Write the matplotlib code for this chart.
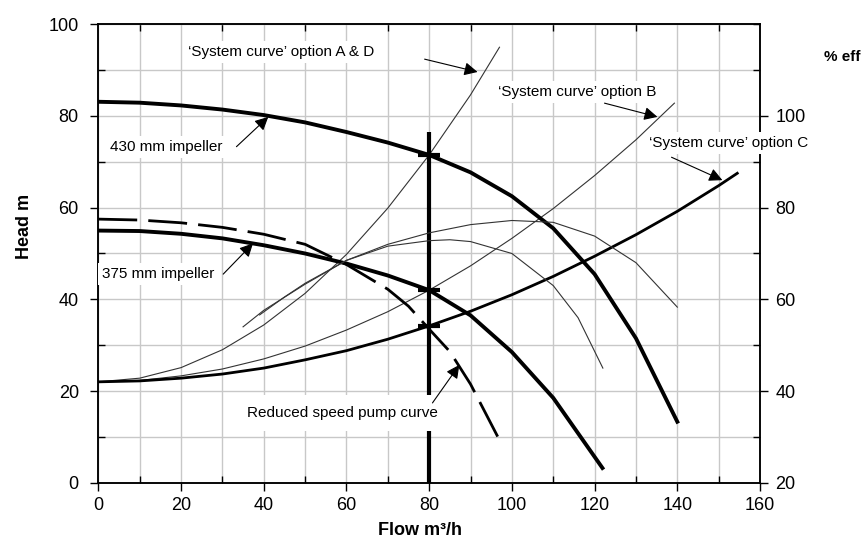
import matplotlib
matplotlib.use("Agg")
import matplotlib.pyplot as plt
from matplotlib.ticker import MultipleLocator

plt.rcParams['font.family'] = ['Liberation Sans', 'DejaVu Sans']

# pump curves (flow m3/h, head m)
q430 = [0, 10, 20, 30, 40, 50, 60, 70, 80, 90, 100, 110, 120, 130, 140]
h430 = [83.1, 82.9, 82.3, 81.4, 80.2, 78.6, 76.5, 74.2, 71.5, 67.7, 62.5, 55.5, 45.5, 31.5, 13.3]

q375 = [0, 10, 20, 30, 40, 50, 60, 70, 80, 90, 100, 110, 121.9]
h375 = [55.0, 54.9, 54.3, 53.3, 51.8, 50.0, 47.8, 45.2, 42.0, 36.5, 28.5, 18.5, 3.2]

q_red = [0, 10, 20, 30, 40, 50, 60, 70, 75, 80, 85, 90, 97]
h_red = [57.5, 57.3, 56.7, 55.7, 54.2, 52.0, 47.6, 42.2, 38.5, 33.5, 28.6, 21.5, 9.3]

# system curves
q_ad = [0, 10, 20, 30, 40, 50, 60, 70, 80, 90, 97]
h_ad = [22.0, 22.8, 25.1, 29.0, 34.4, 41.3, 49.8, 59.9, 71.5, 84.6, 95.0]

q_b = [0, 10, 20, 30, 40, 50, 60, 70, 80, 90, 100, 110, 120, 130, 139.3]
h_b = [22.0, 22.3, 23.3, 24.8, 27.0, 29.8, 33.3, 37.3, 42.0, 47.3, 53.3, 59.8, 67.0, 74.8, 82.8]

q_c = [0, 10, 20, 30, 40, 50, 60, 70, 80, 90, 100, 110, 120, 130, 140, 150, 154.5]
h_c = [22.0, 22.2, 22.8, 23.7, 25.0, 26.8, 28.8, 31.3, 34.2, 37.4, 41.0, 45.0, 49.4, 54.1, 59.2, 64.8, 67.5]

# efficiency curves (% eff, right axis)
qe375 = [35, 40, 50, 60, 70, 80, 85, 90, 100, 110, 116, 122]
e375 = [54.0, 57.6, 63.3, 68.5, 71.6, 72.8, 73.0, 72.6, 70.0, 63.0, 56.0, 45.0]

qe430 = [39, 45, 50, 60, 70, 80, 90, 100, 110, 120, 130, 140]
e430 = [56.6, 60.5, 63.5, 68.5, 72.0, 74.5, 76.3, 77.2, 76.8, 73.8, 68.0, 58.3]

# operating points at the chosen flow
q_duty = 80
h_duty = [71.5, 42.0, 34.2]
h_line_top = 76.6

fig = plt.figure(figsize=(8.67, 5.5), dpi=100)
ax = fig.add_axes([0.1134, 0.1224, 0.7632, 0.8334])
ax2 = ax.twinx()

ax.set_xlim(0, 160)
ax.set_ylim(0, 100)
ax2.set_ylim(20, 120)

ax.xaxis.set_major_locator(MultipleLocator(20))
ax.xaxis.set_minor_locator(MultipleLocator(10))
ax.yaxis.set_major_locator(MultipleLocator(20))
ax.yaxis.set_minor_locator(MultipleLocator(10))
ax2.set_yticks([20, 40, 60, 80, 100])
ax2.yaxis.set_minor_locator(MultipleLocator(10))

ax.grid(which='both', color='#c8c8c8', lw=1.0)
ax.set_axisbelow(True)

ax.tick_params(which='major', direction='out', length=6, width=1, labelsize=13, pad=4,
               right=False)
ax.tick_params(which='minor', direction='in', length=5, width=1, top=True, right=False)
ax.tick_params(axis='y', pad=8)
ax2.tick_params(which='major', direction='out', length=6, width=1, labelsize=13, pad=5)
ax2.tick_params(which='minor', direction='in', length=5, width=1)

for a in (ax, ax2):
    for s in a.spines.values():
        s.set_linewidth(1.1)

ax.set_xlabel('Flow m³/h', fontsize=13, fontweight='bold')
ax.xaxis.set_label_coords(0.486, -0.085)
ax.set_ylabel('Head m', fontsize=13, fontweight='bold')
ax.yaxis.set_label_coords(-0.099, 0.56)
ax2.text(1.125, 0.929, '% eff', transform=ax.transAxes, fontsize=11, fontweight='bold',
         ha='center', va='center')

# curves
ax.plot(q_ad, h_ad, color='#333333', lw=0.8)
ax.plot(q_b, h_b, color='#333333', lw=0.8)
ax.plot(q_c, h_c, color='black', lw=2.0)
ax.plot(q430, h430, color='black', lw=2.8)
ax.plot(q375, h375, color='black', lw=2.8)
ax.plot(q_red, h_red, color='black', lw=2.0, linestyle=(0, (14, 4)))
ax2.plot(qe375, e375, color='#333333', lw=0.8)
ax2.plot(qe430, e430, color='#333333', lw=0.8)

ax.plot([q_duty, q_duty], [0, h_line_top], color='black', lw=3.0, solid_capstyle='butt')
ax.plot([q_duty] * len(h_duty), h_duty, linestyle='none', marker='_', markersize=16,
        markeredgewidth=3, color='black')

box = dict(boxstyle='square,pad=0.25', fc='white', ec='none')
tr = ax.transData
labels = [
    ("‘System curve’ option A & D", 21.7, 94.0, (78.9, 92.4), (91.7, 89.6), box),
    ("430 mm impeller", 2.8, 73.2, (33.4, 73.3), (41.1, 79.8), box),
    ("375 mm impeller", 0.8, 45.5, (30.2, 45.5), (37.4, 52.2), box),
    ("‘System curve’ option B", 96.6, 85.2, (122.4, 82.8), (135.2, 79.8), box),
    ("‘System curve’ option C", 133.2, 74.1, (138.6, 71.0), (150.9, 66.0), box),
    ("Reduced speed pump curve", 35.9, 15.2, (80.8, 17.4), (87.3, 25.7),
     dict(boxstyle='square,pad=0.75', fc='white', ec='none')),
]
for txt, tx, ty, start, tip, bb in labels:
    ax2.text(tx, ty, txt, transform=tr, fontsize=11, ha='left', va='center',
             bbox=bb, zorder=6)
    ax2.annotate('', xy=tip, xytext=start, xycoords=tr, textcoords=tr,
                 arrowprops=dict(arrowstyle='-|>', color='black', lw=0.8,
                                 mutation_scale=20, shrinkA=0, shrinkB=0),
                 zorder=7)

fig.savefig('out.png', dpi=100)
